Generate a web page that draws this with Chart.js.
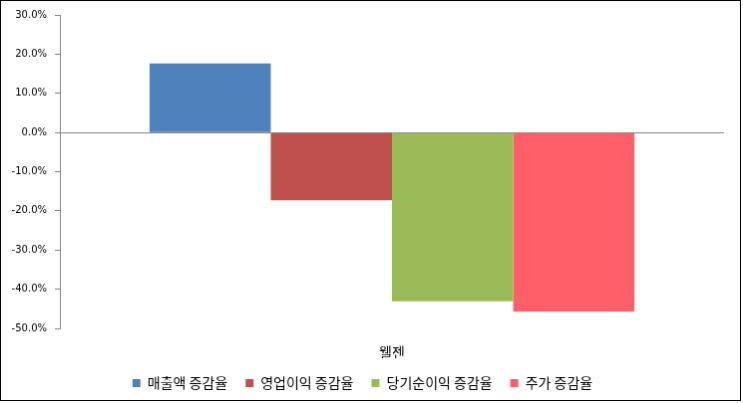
<!DOCTYPE html>
<html>
<head>
<meta charset="utf-8">
<script src="https://cdn.jsdelivr.net/npm/chart.js@4.4.0/dist/chart.umd.min.js"></script>
<style>
  body { margin: 0; background: #fff; }
  #myChart { display: block; border: 1px solid #000; }
</style>
</head>
<body>
<canvas id="myChart" width="741" height="401"></canvas>
<script>
// values, in percent
const categories = ["웰젠"];
const seriesNames = ["매출액 증감율", "영업이익 증감율", "당기순이익 증감율", "주가 증감율"];
const salesChange = [17.6];
const opProfitChange = [-17.3];
const netIncomeChange = [-43.1];
const stockPriceChange = [-45.7];
const yTicks = [-50, -40, -30, -20, -10, 0, 10, 20, 30];

const colors = ["#4F81BD", "#C0504D", "#9BBB59", "#FF5F66"];
const seriesValues = [salesChange, opProfitChange, netIncomeChange, stockPriceChange];

const data = {
  labels: categories,
  datasets: seriesNames.map(function (name, i) {
    return {
      label: name,
      data: seriesValues[i],
      backgroundColor: colors[i],
      borderWidth: 0,
      barPercentage: 1,
      categoryPercentage: 0.73,
    };
  }),
};

const config = {
  type: "bar",
  data: data,
  options: {
    responsive: false,
    animation: false,
    layout: { padding: { left: 0, right: 16, top: 14, bottom: 0 } },
    scales: {
      x: {
        grid: { display: false, drawTicks: false },
        border: { display: false },
        ticks: {
          color: "#000",
          padding: 15,
          maxRotation: 0,
          minRotation: 0,
          autoSkip: false,
          font: { family: "'Noto Sans CJK KR'", size: 14 },
        },
        afterFit: function (s) { s.height = 30; },
      },
      y: {
        min: yTicks[0],
        max: yTicks[yTicks.length - 1],
        afterBuildTicks: function (s) {
          s.ticks = yTicks.map(function (v) { return { value: v }; });
        },
        grid: {
          color: function (ctx) { return ctx.tick && ctx.tick.value === 0 ? "#868686" : "rgba(0,0,0,0)"; },
          tickColor: "#868686",
          tickLength: 5,
        },
        border: { display: true, color: "#868686" },
        ticks: {
          color: "#000",
          padding: 8,
          font: { family: "'DejaVu Sans'", size: 10 },
          callback: function (v) { return v.toFixed(1) + "%"; },
        },
        afterFit: function (s) { s.width = 59; },
      },
    },
    plugins: {
      legend: {
        position: "bottom",
        labels: {
          boxWidth: 8,
          boxHeight: 8,
          padding: 18,
          color: "#000",
          font: { family: "'Noto Sans CJK KR'", size: 14 },
        },
      },
      tooltip: { enabled: false },
    },
  },
};

const myChart = new Chart(document.getElementById("myChart"), config);
</script>
</body>
</html>
